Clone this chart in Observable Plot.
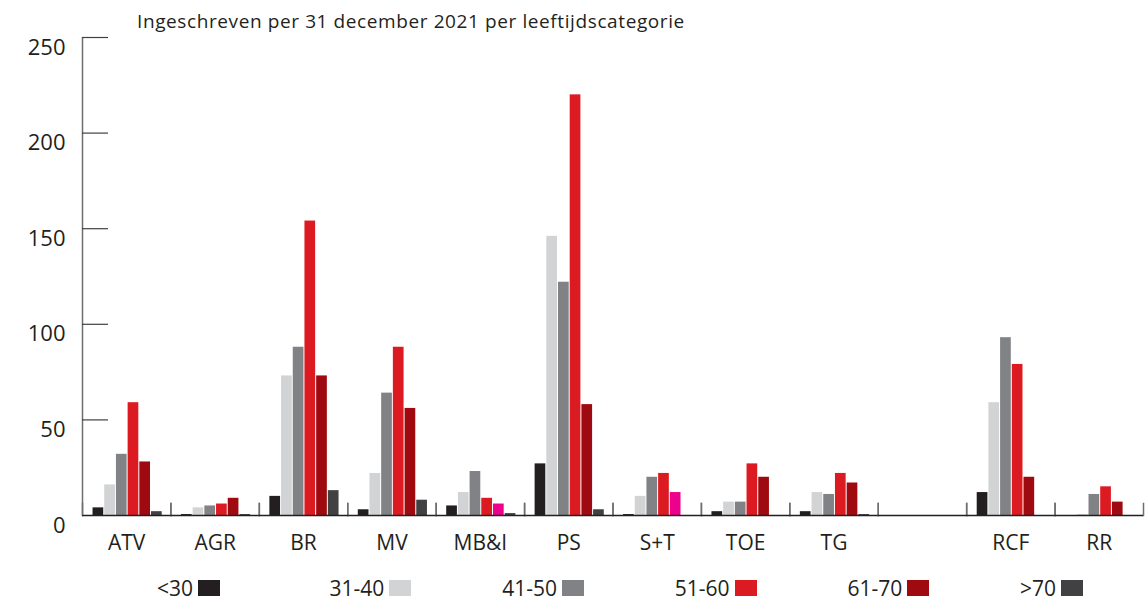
<!DOCTYPE html>
<html><head><meta charset="utf-8">
<script src="https://cdn.jsdelivr.net/npm/d3@7"></script>
<script src="https://cdn.jsdelivr.net/npm/@observablehq/plot@0.6"></script>
<style>
body{margin:0;background:#fff;font-family:"Open Sans",sans-serif;color:#231f20;}
#wrap{position:relative;width:1147px;height:600px;}
#title{position:absolute;left:137px;top:8px;font-size:19px;letter-spacing:0.6px;white-space:nowrap;}
#chart{position:absolute;left:0;top:0;}
#legend{position:absolute;left:0;top:576px;width:1147px;height:24px;}
.item{position:absolute;top:0;height:24px;display:flex;align-items:center;gap:5px;font-size:21px;line-height:22px;}
.sw{width:22px;height:16px;display:inline-block;}
</style></head><body>
<div id="wrap"><div id="chart"></div><div id="title">Ingeschreven per 31 december 2021 per leeftijdscategorie</div><div id="legend"></div></div>
<script>
const categories = ["ATV","AGR","BR","MV","MB&I","PS","S+T","TOE","TG","","RCF","RR"];
const series = ["<30","31-40","41-50","51-60","61-70",">70"];
const under30 = [4, 0.5, 10, 3, 5, 27, 0.5, 2, 2, 0, 12, 0];
const age31_40 = [16, 4, 73, 22, 12, 146, 10, 7, 12, 0, 59, 0.5];
const age41_50 = [32, 5, 88, 64, 23, 122, 20, 7, 11, 0, 93, 11];
const age51_60 = [59, 6, 154, 88, 9, 220, 22, 27, 22, 0, 79, 15];
const age61_70 = [28, 9, 73, 56, 6, 58, 12, 20, 17, 0, 20, 7];
const over70 = [2, 0.5, 13, 8, 1, 3, 0, 0, 0.5, 0, 0, 0];
const yTicks = [0, 50, 100, 150, 200, 250];
const seriesValues = [under30, age31_40, age41_50, age51_60, age61_70, over70];

const colors = ["#231f20", "#d1d3d4", "#808285", "#dc1a22", "#9e0a10", "#414042"];
const pink = "#ec008c";
const pinkCats = ["MB&I", "S+T"];
const colorOf = Object.fromEntries(series.map((s, j) => [s, colors[j]]));

const data = series.flatMap((s, j) => seriesValues[j].map((v, i) => ({cat: categories[i], serie: s, value: v})));

const W = 1147, H = 560, mL = 82, mR = 4, mT = 37, mB = 45;
const facetW = (W - mL - mR) / categories.length;
const innerH = H - mT - mB;

const chart = Plot.plot({
  width: W, height: H,
  marginLeft: mL, marginRight: mR, marginTop: mT, marginBottom: mB,
  style: {fontFamily: "'Open Sans', sans-serif", background: "white", color: "#231f20"},
  fx: {domain: categories, padding: 0, round: false, label: null},
  x: {domain: series, paddingInner: 0, paddingOuter: 0.78, align: 0.55, round: false, axis: null},
  y: {domain: [0, 250], label: null},
  color: {type: "identity"},
  marks: [
    Plot.barY(data, {fx: "cat", x: "serie", y: "value", insetLeft: 0.5, insetRight: 0.5,
      fill: d => (d.serie === "61-70" && pinkCats.includes(d.cat)) ? pink : colorOf[d.serie]}),
    Plot.frame({anchor: "left", insetTop: innerH - 12, stroke: "#6d6e71", strokeWidth: 1.5}),
    Plot.frame({anchor: "right", insetTop: innerH - 12, stroke: "#6d6e71", strokeWidth: 1.5}),
    Plot.ruleY([0], {stroke: "#231f20", strokeWidth: 1.5}),
    Plot.ruleX([categories[0]], {fx: d => d, x: null, dx: -facetW / 2, y1: 0, y2: 250, stroke: "#6d6e71", strokeWidth: 1.5}),
    Plot.tickY(yTicks.slice(1), {fx: () => categories[0], y: d => d, insetRight: facetW - 26, stroke: "#414042", strokeWidth: 1.2}),
    Plot.axisY({ticks: yTicks, tickSize: 0, tickPadding: 17, dy: 10, fontSize: 22, label: null, fill: "#231f20"}),
    Plot.axisFx({anchor: "bottom", tickSize: 0, tickPadding: 20, fontSize: 21, label: null, fill: "#231f20"})
  ]
});
document.getElementById("chart").append(chart);

const legend = document.getElementById("legend");
series.forEach((s, j) => {
  const item = document.createElement("div");
  item.className = "item";
  item.style.left = (157 + 172.6 * j) + "px";
  const lab = document.createElement("span");
  lab.textContent = s;
  const sw = document.createElement("span");
  sw.className = "sw";
  sw.style.background = colors[j];
  item.append(lab, sw);
  legend.append(item);
});
</script>
</body></html>
